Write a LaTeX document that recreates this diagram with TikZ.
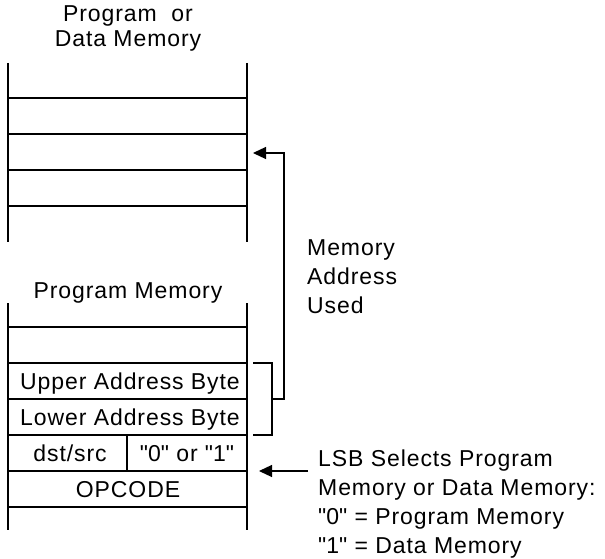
\documentclass[tikz,border=0pt]{standalone}
\usepackage{fontspec}
\setmainfont{Liberation Sans}[LetterSpace=4]
\usetikzlibrary{arrows.meta}
\newcommand{\qbit}[1]{\textquotedbl#1\textquotedbl}

\begin{document}
\begin{tikzpicture}[x=1pt, y=-1pt,
font=\fontsize{23}{29}\selectfont,
wall/.style={line width=1.2pt},
cell/.style={inner sep=0pt, anchor=base},
note/.style={align=left, anchor=north west, inner sep=0pt},
arrow/.style={-{Triangle[length=13pt, width=12pt]}, line width=1.2pt}
]
\useasboundingbox (0,0) rectangle (605,559);

\node[inner sep=0pt, align=center, font=\fontsize{23}{25}\selectfont] (pdmtitle) at (128,28) {Program\ \ or\\Data Memory};
\draw[wall] (8,63) -- (8,242);
\draw[wall] (247,63) -- (247,242);
\foreach \y in {98,134,170,206}
  \draw[wall] (8,\y) -- (247,\y);

\node[cell] (pmtitle) at (128,298) {Program Memory};
\draw[wall] (8,303) -- (8,530);
\draw[wall] (247,303) -- (247,530);
\foreach \y in {327,363,399,435,471,507}
  \draw[wall] (8,\y) -- (247,\y);
\draw[wall] (127,435) -- (127,471);
\node[cell] (upper) at (130,389) {Upper Address Byte};
\node[cell] (lower) at (130,425) {Lower Address Byte};
\node[cell] (dstsrc) at (70,461) {dst/src};
\node[cell] (lsbbit) at (187,461) {\qbit{0} or \qbit{1}};
\node[cell] (opcode) at (128,497) {OPCODE};

\coordinate (bktop) at (253,363);
\coordinate (bkbot) at (253,435);
\coordinate (bkmid) at (272,399);
\coordinate (addrtip) at (253,153);
\draw[wall] (bktop) -- (272,363) -- (272,435) -- (bkbot);
\draw[arrow] (bkmid) -- ++(12,0) |- (addrtip);
\node[note] (addrnote) at (307,239) {Memory\\Address\\Used};

\coordinate (lsbfrom) at (308,471);
\coordinate (lsbtip) at (259,471);
\draw[arrow] (lsbfrom) -- (lsbtip);
\node[note] (lsbnote) at (318,450) {LSB Selects Program\\Memory or Data Memory:\\\qbit{0} = Program Memory\\\qbit{1} = Data Memory};
\end{tikzpicture}
\end{document}
